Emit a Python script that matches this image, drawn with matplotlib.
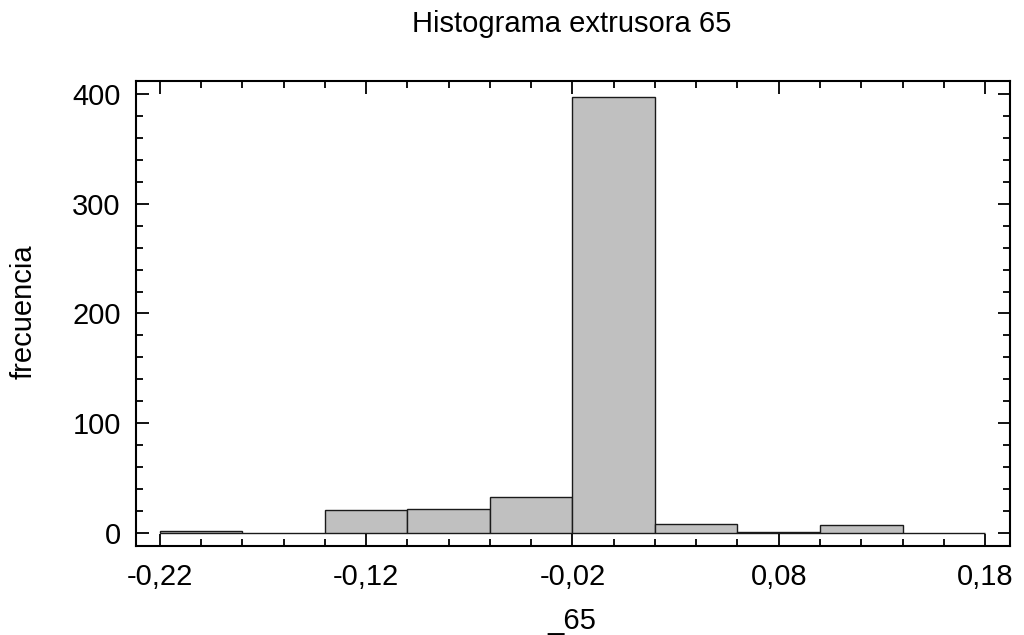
import matplotlib
matplotlib.use('Agg')
import matplotlib.pyplot as plt
from matplotlib.ticker import MultipleLocator, FuncFormatter

plt.rcParams['font.family'] = ['Liberation Sans', 'DejaVu Sans']

# datos del histograma
bin_edges = [-0.22, -0.18, -0.14, -0.10, -0.06, -0.02, 0.02, 0.06, 0.10, 0.14, 0.18]
frecuencias = [2, 0, 21, 22, 33, 397, 8, 1, 7, 0]
x_ticks = [-0.22, -0.12, -0.02, 0.08, 0.18]
y_ticks = [0, 100, 200, 300, 400]

fig = plt.figure(figsize=(10.24, 6.35), dpi=100)
ax = fig.add_axes([0.1328, 0.1402, 0.8535, 0.7323])

lefts = bin_edges[:-1]
widths = [b - a for a, b in zip(bin_edges[:-1], bin_edges[1:])]
ax.bar(lefts, frecuencias, width=widths, align='edge',
       color='#c0c0c0', edgecolor='#1a1a1a', linewidth=1.0)

ax.set_xlim(-0.2316, 0.1921)
ax.set_ylim(-12, 412)

ax.set_xticks(x_ticks)
ax.set_yticks(y_ticks)
ax.xaxis.set_minor_locator(MultipleLocator(0.02))
ax.yaxis.set_minor_locator(MultipleLocator(20))
ax.xaxis.set_major_formatter(FuncFormatter(lambda v, p: ('%.2f' % v).replace('.', ',')))

ax.tick_params(which='both', direction='in', top=True, right=True, width=1.3, labelsize=21, colors='black')
ax.tick_params(which='major', length=9)
ax.tick_params(which='minor', length=5)
ax.tick_params(axis='x', which='major', pad=12)
ax.tick_params(axis='y', which='major', pad=11)
for s in ax.spines.values():
    s.set_linewidth(1.5)

# etiquetas y titulo
fig.text(572 / 1024, 1 - 621 / 635, '_65', ha='center', va='center', fontsize=21)
fig.text(24 / 1024, 1 - 312 / 635, 'frecuencia', ha='center', va='center', rotation=90, fontsize=21)
fig.text(572 / 1024, 1 - 32 / 635, 'Histograma extrusora 65', ha='center', va='baseline', fontsize=21)

fig.savefig('out.png', dpi=100)
